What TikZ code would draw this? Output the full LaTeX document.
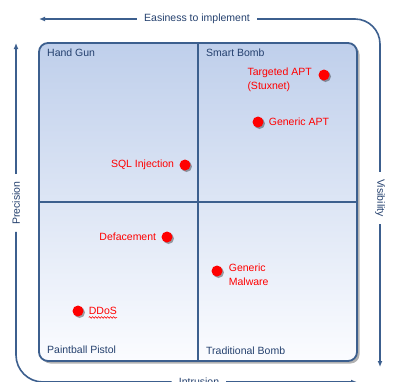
\documentclass[tikz,border=0pt]{standalone}
\usepackage{fontspec}
\setmainfont{Liberation Sans}
\usepackage{tikz}
\usetikzlibrary{arrows.meta}
\usetikzlibrary{calc,positioning,shadows}
\usetikzlibrary{decorations.pathmorphing}
\definecolor{axisblue}{HTML}{3C5F8E}
\definecolor{labelblue}{HTML}{24406E}
\definecolor{topfill}{HTML}{BFCFEB}
\definecolor{botfill}{HTML}{FBFCFF}

\begin{document}
\begin{tikzpicture}[x=1pt,y=-1pt,font=\fontsize{10.5}{13.5}\selectfont]
    \tikzstyle{axis line}=[draw=axisblue,line width=1.6pt]
    \tikzstyle{axis tip}=[-{Latex[length=6pt,width=5pt]}]
    \tikzstyle{axis label}=[text=labelblue,inner sep=7pt]
    \tikzstyle{quad label}=[text=labelblue,anchor=west,inner sep=0pt]
    \tikzstyle{attack node}=[circle,fill=red,inner sep=0pt,minimum size=11pt,
        drop shadow={shadow xshift=1.5pt,shadow yshift=-1.5pt,fill=black,opacity=.35}]
    \tikzstyle{attack}=[text=red,inner sep=0pt,align=left]
    \fill[white] (0,0) rectangle (397,381);
    \useasboundingbox (0,0) rectangle (397,381);
    \node(quad)[draw=axisblue,line width=1.8pt,rounded corners=9pt,
        minimum width=318pt,minimum height=318pt,top color=topfill,bottom color=botfill,
        drop shadow={shadow xshift=2.5pt,shadow yshift=-2.5pt,fill=black,opacity=.3}] at (198,202) {};
    \draw[axis line] (quad.north) -- (quad.south);
    \draw[axis line] (quad.west) -- (quad.east);
    \node(hg)[quad label] at (47,53) {Hand Gun};
    \node(sb)[quad label] at (206,53) {Smart Bomb};
    \node(pp)[quad label] at (47,350) {Paintball Pistol};
    \node(tb)[quad label] at (206,351) {Traditional Bomb};
    \coordinate (tl) at (39,19);
    \coordinate (tr) at (380,19);
    \coordinate (rb) at (380,367);
    \coordinate (lt) at (16,43);
    \coordinate (lb) at (16,382);
    \coordinate (br) at (357,382);
    \node(ease)[axis label] at (197,19) {Easiness to implement};
    \node(prec)[axis label,rotate=90] at (16,203) {Precision};
    \node(vis)[axis label,rotate=-90] at (380,198) {Visibility};
    \node(intr)[axis label] at (199,382) {Intrusion};
    \draw[axis line,axis tip] (ease.west) -- (tl);
    \draw[axis line,rounded corners=25pt] (ease.east) -- (tr) -- (vis.west);
    \draw[axis line,axis tip] (vis.east) -- (rb);
    \draw[axis line,axis tip] (prec.east) -- (lt);
    \draw[axis line,rounded corners=27pt] (prec.west) -- (lb) -- (intr.west);
    \draw[axis line,axis tip] (intr.east) -- (br);
    \node(tapt)[attack node] at (324,75) {};
    \node(gapt)[attack node] at (258,122) {};
    \node(sql)[attack node] at (185,165) {};
    \node(deface)[attack node] at (167,237) {};
    \node(malw)[attack node] at (217,271) {};
    \node(ddos)[attack node] at (78,311) {};
    \node(taptl)[attack,anchor=north west] at ($(tapt.west)+(-71,-7)$) {Targeted APT\\(Stuxnet)};
    \node(gaptl)[attack,right=5pt of gapt] {Generic APT};
    \node(sqll)[attack,left=5pt of sql] {SQL Injection};
    \node(defacel)[attack,left=5pt of deface] {Defacement};
    \node(malwl)[attack,anchor=north west] at ($(malw.east)+(6,-7)$) {Generic\\Malware};
    \node(ddosl)[attack,right=5pt of ddos] {DDoS};
    \draw[red,line width=.6pt,decorate,decoration={snake,amplitude=.8pt,segment length=3pt}]
        ($(ddosl.south west)+(0,2.5)$) -- ($(ddosl.south east)+(0,2.5)$);
\end{tikzpicture}
\end{document}
